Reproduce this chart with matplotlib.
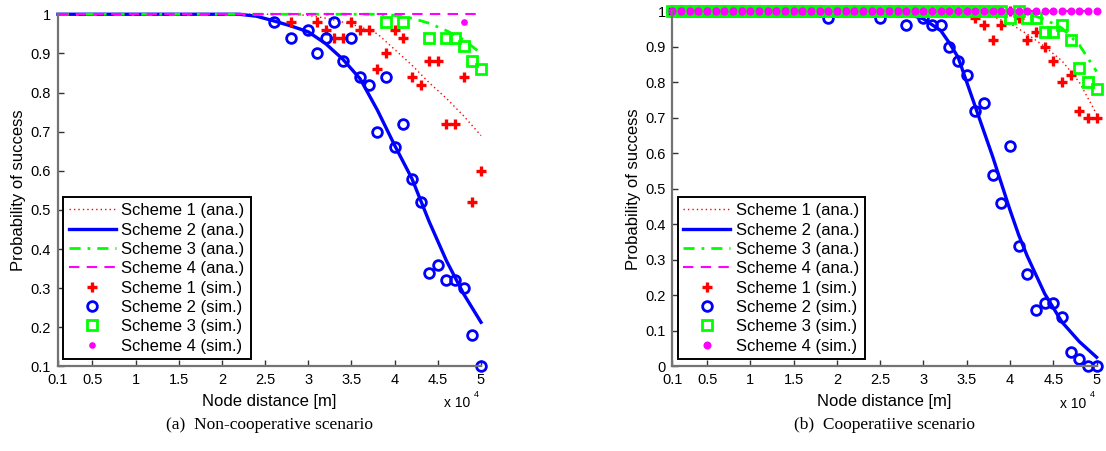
# -*- coding: utf-8 -*-
"""
Probability of success vs node distance, two scenarios side by side.
"""

import numpy as np
import matplotlib
matplotlib.use('Agg')
import matplotlib.pyplot as plt

plt.rcParams['font.family'] = ['Liberation Sans', 'DejaVu Sans']

LABELS = ['Scheme 1 (ana.)', 'Scheme 2 (ana.)', 'Scheme 3 (ana.)', 'Scheme 4 (ana.)',
          'Scheme 1 (sim.)', 'Scheme 2 (sim.)', 'Scheme 3 (sim.)', 'Scheme 4 (sim.)']
X_TICKS = [0.1, 0.5, 1, 1.5, 2, 2.5, 3, 3.5, 4, 4.5, 5]
X_TICKLABELS = ['0.1', '0.5', '1', '1.5', '2', '2.5', '3', '3.5', '4', '4.5', '5']

# ---- (a) non-cooperative: analytical curves (x in units of 1e4 m) ----
a_ana1_x = [0.1, 2.8, 3.0, 3.2, 3.4, 3.6, 3.8, 4.0, 4.2, 4.4, 4.6, 4.8, 5.0]
a_ana1_p = [1.0, 1.0, 0.997, 0.99, 0.98, 0.968, 0.95, 0.91, 0.87, 0.825, 0.785, 0.74, 0.69]
a_ana2_x = [0.1, 2.2, 2.4, 2.6, 2.8, 3.0, 3.2, 3.4, 3.6, 3.8, 4.0, 4.2, 4.4, 4.6, 4.8, 5.0]
a_ana2_p = [1.0, 1.0, 0.995, 0.983, 0.97, 0.955, 0.925, 0.885, 0.835, 0.755, 0.665, 0.58,
            0.47, 0.37, 0.285, 0.213]
a_ana3_x = [0.1, 3.8, 4.0, 4.2, 4.4, 4.6, 4.8, 5.0]
a_ana3_p = [1.0, 1.0, 0.997, 0.99, 0.977, 0.958, 0.935, 0.90]
a_ana4_x = [0.1, 5.0]
a_ana4_p = [1.0, 1.0]

# ---- (a) simulated points (only those below 1 show up) ----
a_sim1_x = [2.8, 3.1, 3.2, 3.3, 3.4, 3.5, 3.6, 3.7, 3.8, 3.9, 4.0, 4.1, 4.2, 4.3, 4.4,
            4.5, 4.6, 4.7, 4.8, 4.9, 5.0]
a_sim1_p = [0.98, 0.98, 0.96, 0.94, 0.94, 0.98, 0.96, 0.96, 0.86, 0.90, 0.96, 0.94, 0.84,
            0.82, 0.88, 0.88, 0.72, 0.72, 0.84, 0.52, 0.60]
a_sim2_x = [2.6, 2.8, 3.0, 3.1, 3.2, 3.3, 3.4, 3.5, 3.6, 3.7, 3.8, 3.9, 4.0, 4.1, 4.2,
            4.3, 4.4, 4.5, 4.6, 4.7, 4.8, 4.9, 5.0]
a_sim2_p = [0.98, 0.94, 0.96, 0.90, 0.94, 0.98, 0.88, 0.94, 0.84, 0.82, 0.70, 0.84, 0.66,
            0.72, 0.58, 0.52, 0.34, 0.36, 0.32, 0.32, 0.30, 0.18, 0.10]
a_sim3_x = [3.9, 4.1, 4.4, 4.6, 4.7, 4.8, 4.9, 5.0]
a_sim3_p = [0.98, 0.98, 0.94, 0.94, 0.94, 0.92, 0.88, 0.86]
a_sim4_x = [4.8]
a_sim4_p = [0.98]

# ---- (b) cooperative: analytical curves ----
b_ana1_x = [0.1, 3.4, 3.6, 3.8, 4.0, 4.2, 4.4, 4.6, 4.8, 5.0]
b_ana1_p = [1.0, 1.0, 0.995, 0.985, 0.965, 0.935, 0.90, 0.86, 0.80, 0.71]
b_ana2_x = [0.1, 2.4, 2.6, 2.8, 3.0, 3.2, 3.3, 3.4, 3.5, 3.6, 3.7, 3.8, 3.9, 4.0, 4.1,
            4.2, 4.4, 4.6, 4.8, 5.0]
b_ana2_p = [1.0, 1.0, 0.998, 0.993, 0.978, 0.945, 0.91, 0.87, 0.80, 0.73, 0.66, 0.59,
            0.515, 0.44, 0.37, 0.31, 0.205, 0.125, 0.07, 0.026]
b_ana3_x = [0.1, 4.0, 4.2, 4.4, 4.6, 4.8, 5.0]
b_ana3_p = [1.0, 1.0, 0.993, 0.977, 0.952, 0.905, 0.83]
b_ana4_x = [0.1, 5.0]
b_ana4_p = [1.0, 1.0]

# ---- (b) simulated points, x = 0.1 ... 5.0 step 0.1 ----
b_sim_x = np.round(np.arange(1, 51) / 10.0, 1)
b_sim1_p = [1, 1, 1, 1, 1, 1, 1, 1, 1, 1,
            1, 1, 1, 1, 1, 1, 1, 1, 1, 1,
            1, 1, 1, 1, 1, 1, 1, 1, 1, 1,
            1, 1, 1, 1, 1, 0.98, 0.96, 0.92, 0.96, 1,
            0.98, 0.92, 0.94, 0.90, 0.86, 0.80, 0.82, 0.72, 0.70, 0.70]
b_sim2_p = [1, 1, 1, 1, 1, 1, 1, 1, 1, 1,
            1, 1, 1, 1, 1, 1, 1, 1, 0.98, 1,
            1, 1, 1, 1, 0.98, 1, 1, 0.96, 1, 0.98,
            0.96, 0.96, 0.90, 0.86, 0.82, 0.72, 0.74, 0.54, 0.46, 0.62,
            0.34, 0.26, 0.16, 0.18, 0.18, 0.14, 0.04, 0.02, 0.0, 0.0]
b_sim3_p = [1, 1, 1, 1, 1, 1, 1, 1, 1, 1,
            1, 1, 1, 1, 1, 1, 1, 1, 1, 1,
            1, 1, 1, 1, 1, 1, 1, 1, 1, 1,
            1, 1, 1, 1, 1, 1, 1, 1, 1, 0.98,
            1, 0.98, 0.98, 0.94, 0.94, 0.96, 0.92, 0.84, 0.80, 0.78]
b_sim4_p = [1, 1, 1, 1, 1, 1, 1, 1, 1, 1,
            1, 1, 1, 1, 1, 1, 1, 1, 1, 1,
            1, 1, 1, 1, 1, 1, 1, 1, 1, 1,
            1, 1, 1, 1, 1, 1, 1, 1, 1, 1,
            1, 1, 1, 1, 1, 1, 1, 1, 1, 1]


def draw(ax, ana, sim, ylim, yticks, ylabels, dot_size):
    """ Draw the four analytical curves and four simulated series"""
    ax.plot(*ana[0], color='r', ls=(0, (1, 2.2)), lw=1.0)
    ax.plot(*ana[1], color='b', ls='-', lw=2.4)
    ax.plot(*ana[2], color=(0, 1, 0), ls=(0, (4, 2.5, 1, 2.5)), lw=2.0)
    ax.plot(*ana[3], color=(1, 0, 1), ls=(0, (5, 3.5)), lw=1.5)
    ax.plot(*sim[0], ls='none', marker='+', color='r', ms=7.2, mew=2.4)
    ax.plot(*sim[1], ls='none', marker='o', mfc='none', mec='b', ms=7, mew=2.0)
    ax.plot(*sim[2], ls='none', marker='s', mfc='none', mec=(0, 1, 0), ms=6.6, mew=2.0)
    ax.plot(*sim[3], ls='none', marker='o', color=(1, 0, 1), ms=dot_size, mew=0)

    ax.set_xlim(0.1, 5)
    ax.set_ylim(*ylim)
    ax.set_xticks(X_TICKS)
    ax.set_xticklabels(X_TICKLABELS)
    ax.set_yticks(yticks)
    ax.set_yticklabels(ylabels)
    ax.tick_params(direction='in', length=4, width=1, labelsize=10.5, color='0.2', pad=5)
    for s in ['top', 'right']:
        ax.spines[s].set_visible(False)
    for s in ['left', 'bottom']:
        ax.spines[s].set_color('0.45')
        ax.spines[s].set_linewidth(1.6)
    for ln in ax.lines:
        ln.set_clip_on(False)

    ax.set_xlabel('Node distance [m]', fontsize=12, labelpad=5)
    ax.set_ylabel('Probability of success', fontsize=12, labelpad=3)

    leg = ax.legend(LABELS, loc='lower left', bbox_to_anchor=(0.012, 0.02),
                    borderaxespad=0, fontsize=12, fancybox=False, framealpha=1,
                    edgecolor='k', handlelength=2.8, handletextpad=0.35,
                    labelspacing=0.26, borderpad=0.35, numpoints=1)
    leg.get_frame().set_linewidth(1.4)

    # MATLAB style exponent at the lower right
    ax.text(0.975, -0.105, 'x 10', transform=ax.transAxes, ha='right', va='center',
            fontsize=10)
    ax.text(0.99, -0.08, '4', transform=ax.transAxes, ha='center', va='center',
            fontsize=6.5)


fig = plt.figure(figsize=(11.06, 4.51), dpi=100)
ax1 = fig.add_axes([0.0524, 0.1874, 0.3825, 0.781])
ax2 = fig.add_axes([0.608, 0.1874, 0.3835, 0.788])

draw(ax1,
     [(a_ana1_x, a_ana1_p), (a_ana2_x, a_ana2_p), (a_ana3_x, a_ana3_p), (a_ana4_x, a_ana4_p)],
     [(a_sim1_x, a_sim1_p), (a_sim2_x, a_sim2_p), (a_sim3_x, a_sim3_p), (a_sim4_x, a_sim4_p)],
     (0.1, 1.0), np.round(np.arange(1, 11) / 10.0, 1),
     ['0.1', '0.2', '0.3', '0.4', '0.5', '0.6', '0.7', '0.8', '0.9', '1'], 4.8)
draw(ax2,
     [(b_ana1_x, b_ana1_p), (b_ana2_x, b_ana2_p), (b_ana3_x, b_ana3_p), (b_ana4_x, b_ana4_p)],
     [(b_sim_x, b_sim1_p), (b_sim_x, b_sim2_p), (b_sim_x, b_sim3_p), (b_sim_x, b_sim4_p)],
     (0.0, 1.0), np.round(np.arange(0, 11) / 10.0, 1),
     ['0', '0.1', '0.2', '0.3', '0.4', '0.5', '0.6', '0.7', '0.8', '0.9', '1'], 5.8)

# sub-captions
fig.text(0.2437, 0.058, '(a)  Non-cooperative scenario', ha='center', va='center',
         fontsize=12.5, family='Liberation Serif')
fig.text(0.7998, 0.058, '(b)  Cooperatiive scenario', ha='center', va='center',
         fontsize=12.5, family='Liberation Serif')

fig.savefig('out.png', dpi=100)
